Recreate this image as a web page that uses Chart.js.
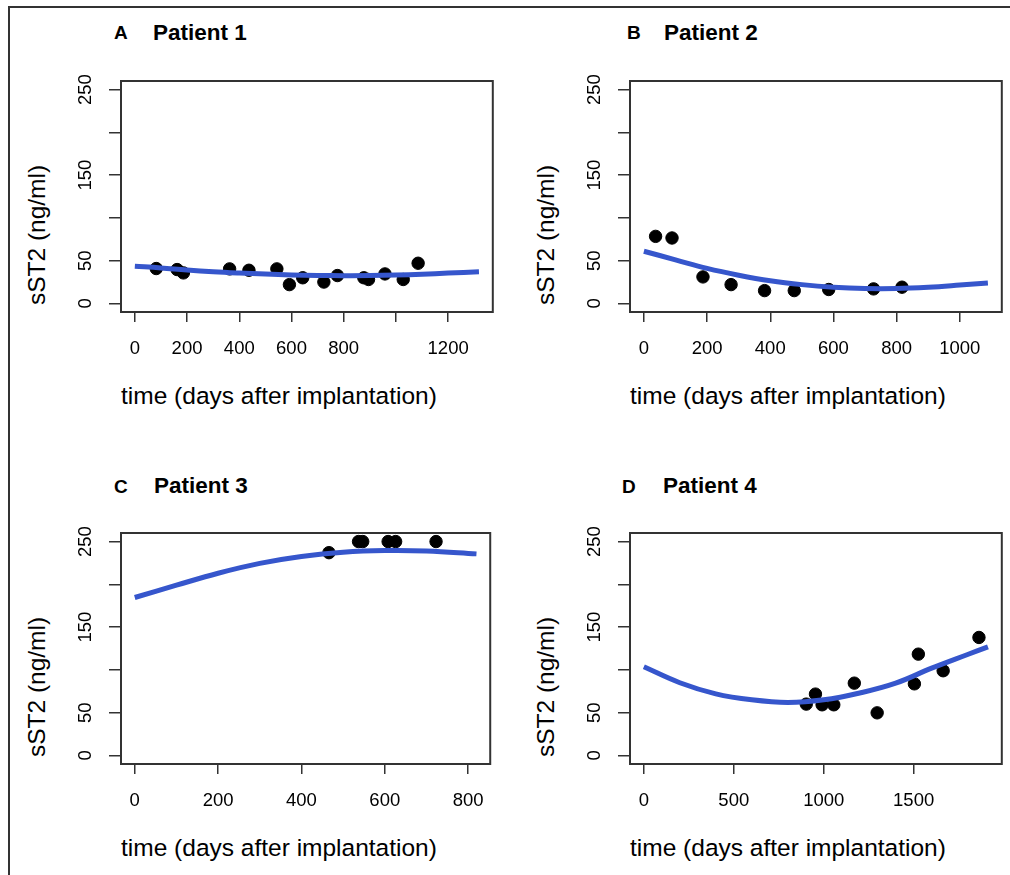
<!DOCTYPE html>
<html>
<head>
<meta charset="utf-8">
<script src="https://cdn.jsdelivr.net/npm/chart.js@4"></script>
<style>
  html, body { margin: 0; padding: 0; background: #fff; overflow: hidden; }
  body { width: 1010px; height: 875px; position: relative; font-family: "Liberation Sans", Arial, sans-serif; color: #000; }
  .frame { position: absolute; left: 8px; top: 6px; width: 1010px; height: 880px; border-left: 2px solid #333; border-top: 2px solid #333; }
  canvas { position: absolute; }
  .t { position: absolute; line-height: 1; white-space: nowrap; }
  .letter { font-size: 19px; font-weight: bold; }
  .name { font-size: 22.5px; font-weight: bold; }
  .xt { font-size: 24.5px; }
  .yt { font-size: 24.5px; transform: translate(-50%, -50%) rotate(-90deg); }
</style>
</head>
<body>
<div class="frame"></div>

<div class="t letter" style="left:114px;top:23px">A</div>
<div class="t name" style="left:153px;top:22px">Patient 1</div>
<div class="t letter" style="left:627px;top:23px">B</div>
<div class="t name" style="left:664px;top:22px">Patient 2</div>
<div class="t letter" style="left:114px;top:477px">C</div>
<div class="t name" style="left:154px;top:475px">Patient 3</div>
<div class="t letter" style="left:622px;top:477px">D</div>
<div class="t name" style="left:663px;top:475px">Patient 4</div>

<div class="t xt" style="left:121px;top:384px">time (days after implantation)</div>
<div class="t xt" style="left:630px;top:384px">time (days after implantation)</div>
<div class="t xt" style="left:121px;top:836px">time (days after implantation)</div>
<div class="t xt" style="left:630px;top:836px">time (days after implantation)</div>

<div class="t yt" style="left:37px;top:235px">sST2 (ng/ml)</div>
<div class="t yt" style="left:546px;top:235px">sST2 (ng/ml)</div>
<div class="t yt" style="left:37px;top:687px">sST2 (ng/ml)</div>
<div class="t yt" style="left:546px;top:687px">sST2 (ng/ml)</div>

<canvas id="p1" width="439" height="291" style="left:61px;top:71px"></canvas>
<canvas id="p2" width="439" height="291" style="left:570px;top:71px"></canvas>
<canvas id="p3" width="439" height="291" style="left:61px;top:523px"></canvas>
<canvas id="p4" width="439" height="291" style="left:570px;top:523px"></canvas>

<script>
// shared y axis (sST2, ng/ml)
const yTicks = [0, 50, 100, 150, 200, 250];
const yLabels = ['0', '50', '', '150', '', '250'];

// Patient 1
const p1Days = [82, 162, 186, 363, 437, 544, 592, 643, 724, 776, 877, 895, 958, 1028, 1085];
const p1Vals = [40.8, 39.6, 35.7, 40.4, 38.8, 40.4, 22, 30, 25, 32.6, 30, 28, 34.5, 28, 47];
const p1FitDays = [0, 100, 200, 300, 400, 500, 600, 700, 800, 900, 1000, 1100, 1200, 1318];
const p1FitVals = [43.5, 41.5, 39, 37, 35.5, 34.3, 33.3, 32.7, 32.5, 32.6, 33.2, 34.2, 35.5, 37];
const p1XTicks = [0, 200, 400, 600, 800, 1000, 1200];
const p1XLabels = ['0', '200', '400', '600', '800', '', '1200'];

// Patient 2
const p2Days = [37, 89, 187, 276, 382, 476, 585, 727, 817];
const p2Vals = [78.4, 76.5, 31, 22, 15, 15, 16.3, 17, 19];
const p2FitDays = [0, 100, 200, 300, 400, 500, 600, 700, 800, 900, 1000, 1089];
const p2FitVals = [61, 51, 41, 33, 26.5, 22, 19, 17.5, 17.5, 19, 21.5, 24];
const p2XTicks = [0, 200, 400, 600, 800, 1000];
const p2XLabels = ['0', '200', '400', '600', '800', '1000'];

// Patient 3
const p3Days = [466, 537, 547, 608, 626, 723];
const p3Vals = [237, 250, 250, 250, 250, 250];
const p3FitDays = [0, 100, 200, 300, 400, 500, 600, 700, 820];
const p3FitVals = [184.6, 199, 213, 224.5, 232.5, 237.5, 239.5, 239, 235.6];
const p3XTicks = [0, 200, 400, 600, 800];
const p3XLabels = ['0', '200', '400', '600', '800'];

// Patient 4
const p4Days = [903, 954, 991, 1056, 1170, 1297, 1504, 1526, 1664, 1863];
const p4Vals = [60, 71.7, 59.2, 59.2, 84.5, 49.8, 83.7, 118.4, 99, 137.9];
const p4FitDays = [0, 200, 400, 600, 800, 1000, 1200, 1400, 1600, 1800, 1913];
const p4FitVals = [103.6, 85, 72, 65, 62, 65, 73, 84.5, 102, 118, 127];
const p4XTicks = [0, 500, 1000, 1500];
const p4XLabels = ['0', '500', '1000', '1500'];

const toXY = (xs, ys) => xs.map((x, i) => ({x: x, y: ys[i]}));

// box round the plot region and the rotated y tick labels (R style)
const rBox = {
  id: 'rBox',
  afterDraw(chart) {
    const {ctx, chartArea: a} = chart;
    const y = chart.scales.y;
    ctx.save();
    ctx.strokeStyle = '#333';
    ctx.lineWidth = 2;
    ctx.strokeRect(a.left, a.top, a.right - a.left, a.bottom - a.top);
    ctx.fillStyle = '#000';
    ctx.font = '18.5px "Liberation Sans", Arial, sans-serif';
    ctx.textAlign = 'center';
    ctx.textBaseline = 'middle';
    yTicks.forEach((v, i) => {
      if (!yLabels[i]) return;
      ctx.save();
      ctx.translate(a.left - 35, y.getPixelForValue(v));
      ctx.rotate(-Math.PI / 2);
      ctx.fillText(yLabels[i], 0, 0);
      ctx.restore();
    });
    ctx.restore();
  }
};

function makePanel(id, days, vals, fitDays, fitVals, xMin, xMax, xTicks, xLabels) {
  return new Chart(document.getElementById(id), {
    type: 'scatter',
    data: {
      datasets: [{
        type: 'line',
        data: toXY(fitDays, fitVals),
        borderColor: '#3656cc',
        borderWidth: 5,
        pointRadius: 0,
        tension: 0.4,
        fill: false,
        order: 0
      }, {
        data: toXY(days, vals),
        backgroundColor: '#000',
        borderColor: '#000',
        pointRadius: 6.2,
        pointHoverRadius: 6.2,
        order: 1
      }]
    },
    options: {
      responsive: false,
      animation: false,
      devicePixelRatio: 1,
      layout: { padding: { left: 0, top: 10, right: 5, bottom: 0 } },
      plugins: { legend: { display: false }, tooltip: { enabled: false } },
      scales: {
        x: {
          type: 'linear',
          min: xMin,
          max: xMax,
          afterBuildTicks: s => { s.ticks = xTicks.map(v => ({value: v})); },
          afterFit: s => { s.height = 50; },
          ticks: {
            autoSkip: false,
            maxRotation: 0,
            padding: 16,
            color: '#000',
            font: { family: '"Liberation Sans", Arial, sans-serif', size: 18.5 },
            callback: (v) => xLabels[xTicks.indexOf(v)]
          },
          grid: { drawOnChartArea: false, drawTicks: true, tickLength: 10, color: '#333', lineWidth: 1.5 },
          border: { display: false }
        },
        y: {
          type: 'linear',
          min: -10,
          max: 260,
          afterBuildTicks: s => { s.ticks = yTicks.map(v => ({value: v})); },
          afterFit: s => { s.width = 60; },
          ticks: { display: false },
          grid: { drawOnChartArea: false, drawTicks: true, tickLength: 12, color: '#333', lineWidth: 1.5 },
          border: { display: false }
        }
      }
    },
    plugins: [rBox]
  });
}

makePanel('p1', p1Days, p1Vals, p1FitDays, p1FitVals, -53, 1371, p1XTicks, p1XLabels);
makePanel('p2', p2Days, p2Vals, p2FitDays, p2FitVals, -44, 1133, p2XTicks, p2XLabels);
makePanel('p3', p3Days, p3Vals, p3FitDays, p3FitVals, -33, 853, p3XTicks, p3XLabels);
makePanel('p4', p4Days, p4Vals, p4FitDays, p4FitVals, -77, 1990, p4XTicks, p4XLabels);
</script>
</body>
</html>
